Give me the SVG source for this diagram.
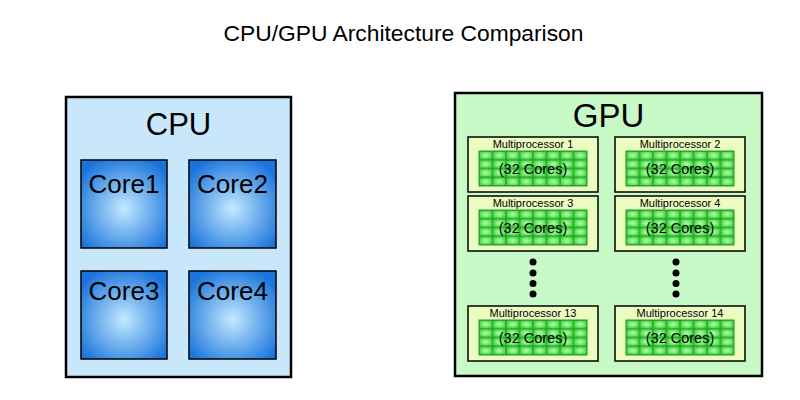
<svg xmlns="http://www.w3.org/2000/svg" xmlns:xlink="http://www.w3.org/1999/xlink" width="800" height="400" viewBox="0 0 800 400">
<style>
text{font-family:"Liberation Sans",Arial,sans-serif;fill:#000;text-anchor:middle}
.box{stroke:#000;stroke-width:2.5}
.core{fill:url(#coreGrad);stroke:#000;stroke-width:1.5}
.mp{fill:#ebfcc0;stroke:#000;stroke-width:1.5}
.mpl{font-size:11px}
.cores{font-size:14.5px}
.corel{font-size:26px}
.dot{fill:#000}
</style>
<defs>
<radialGradient id="coreGrad" cx="0.5" cy="0.55" r="0.62">
<stop offset="0" stop-color="#c2eaff"/>
<stop offset="1" stop-color="#1b74dc"/>
</radialGradient>
<radialGradient id="cellGrad" cx="0.5" cy="0.5" r="0.6">
<stop offset="0" stop-color="#b8ffb0"/>
<stop offset="1" stop-color="#2cd02c"/>
</radialGradient>
<pattern id="cellPat" patternUnits="userSpaceOnUse" x="0" y="0" width="13.5" height="8.75">
<rect x="0" y="0" width="13.5" height="8.75" fill="url(#cellGrad)" stroke="#2a9a2a" stroke-width="1.2"/>
</pattern>
<g id="grid">
<rect x="0" y="0" width="108" height="35" fill="url(#cellPat)" stroke="#2a9a2a" stroke-width="1"/>
</g>
</defs>
<rect width="800" height="400" fill="#fff"/>
<text x="403.5" y="41" style="font-size:22.8px">CPU/GPU Architecture Comparison</text>

<g id="cpu">
<rect class="box" x="66" y="97" width="225" height="280" fill="#c8e7fb"/>
<text x="178.5" y="135" style="font-size:31px">CPU</text>
</g>
<g id="core1"><rect class="core" x="81" y="160" width="86" height="88"/><text class="corel" x="124" y="193">Core1</text></g>
<g id="core2"><rect class="core" x="189" y="160" width="87" height="88"/><text class="corel" x="232.5" y="193">Core2</text></g>
<g id="core3"><rect class="core" x="81" y="271" width="86" height="88"/><text class="corel" x="124" y="300">Core3</text></g>
<g id="core4"><rect class="core" x="189" y="271" width="87" height="88"/><text class="corel" x="232.5" y="300">Core4</text></g>

<g id="gpu">
<rect class="box" x="455" y="93" width="307" height="283" fill="#c8fac8"/>
<text x="608.5" y="127" style="font-size:33px">GPU</text>
</g>

<g id="mp1"><rect class="mp" x="468" y="137" width="130" height="55"/><text class="mpl" x="533" y="148">Multiprocessor 1</text><use xlink:href="#grid" href="#grid" transform="translate(479,151)"/><text class="cores" x="533" y="174">(32 Cores)</text></g>
<g id="mp2"><rect class="mp" x="615" y="137" width="130" height="55"/><text class="mpl" x="680" y="148">Multiprocessor 2</text><use xlink:href="#grid" href="#grid" transform="translate(626,151)"/><text class="cores" x="680" y="174">(32 Cores)</text></g>
<g id="mp3"><rect class="mp" x="468" y="196" width="130" height="55"/><text class="mpl" x="533" y="207">Multiprocessor 3</text><use xlink:href="#grid" href="#grid" transform="translate(479,210)"/><text class="cores" x="533" y="233">(32 Cores)</text></g>
<g id="mp4"><rect class="mp" x="615" y="196" width="130" height="55"/><text class="mpl" x="680" y="207">Multiprocessor 4</text><use xlink:href="#grid" href="#grid" transform="translate(626,210)"/><text class="cores" x="680" y="233">(32 Cores)</text></g>
<g id="mp13"><rect class="mp" x="468" y="306" width="130" height="55"/><text class="mpl" x="533" y="317">Multiprocessor 13</text><use xlink:href="#grid" href="#grid" transform="translate(479,320)"/><text class="cores" x="533" y="343">(32 Cores)</text></g>
<g id="mp14"><rect class="mp" x="615" y="306" width="130" height="55"/><text class="mpl" x="680" y="317">Multiprocessor 14</text><use xlink:href="#grid" href="#grid" transform="translate(626,320)"/><text class="cores" x="680" y="343">(32 Cores)</text></g>

<g id="ellipsis1">
<circle class="dot" cx="533" cy="262" r="3.5"/><circle class="dot" cx="533" cy="273" r="3.5"/><circle class="dot" cx="533" cy="283.5" r="3.5"/><circle class="dot" cx="533" cy="294" r="3.5"/>
</g>
<g id="ellipsis2">
<circle class="dot" cx="676" cy="262" r="3.5"/><circle class="dot" cx="676" cy="273" r="3.5"/><circle class="dot" cx="676" cy="283.5" r="3.5"/><circle class="dot" cx="676" cy="294" r="3.5"/>
</g>
<g id="connectors"/>
</svg>
